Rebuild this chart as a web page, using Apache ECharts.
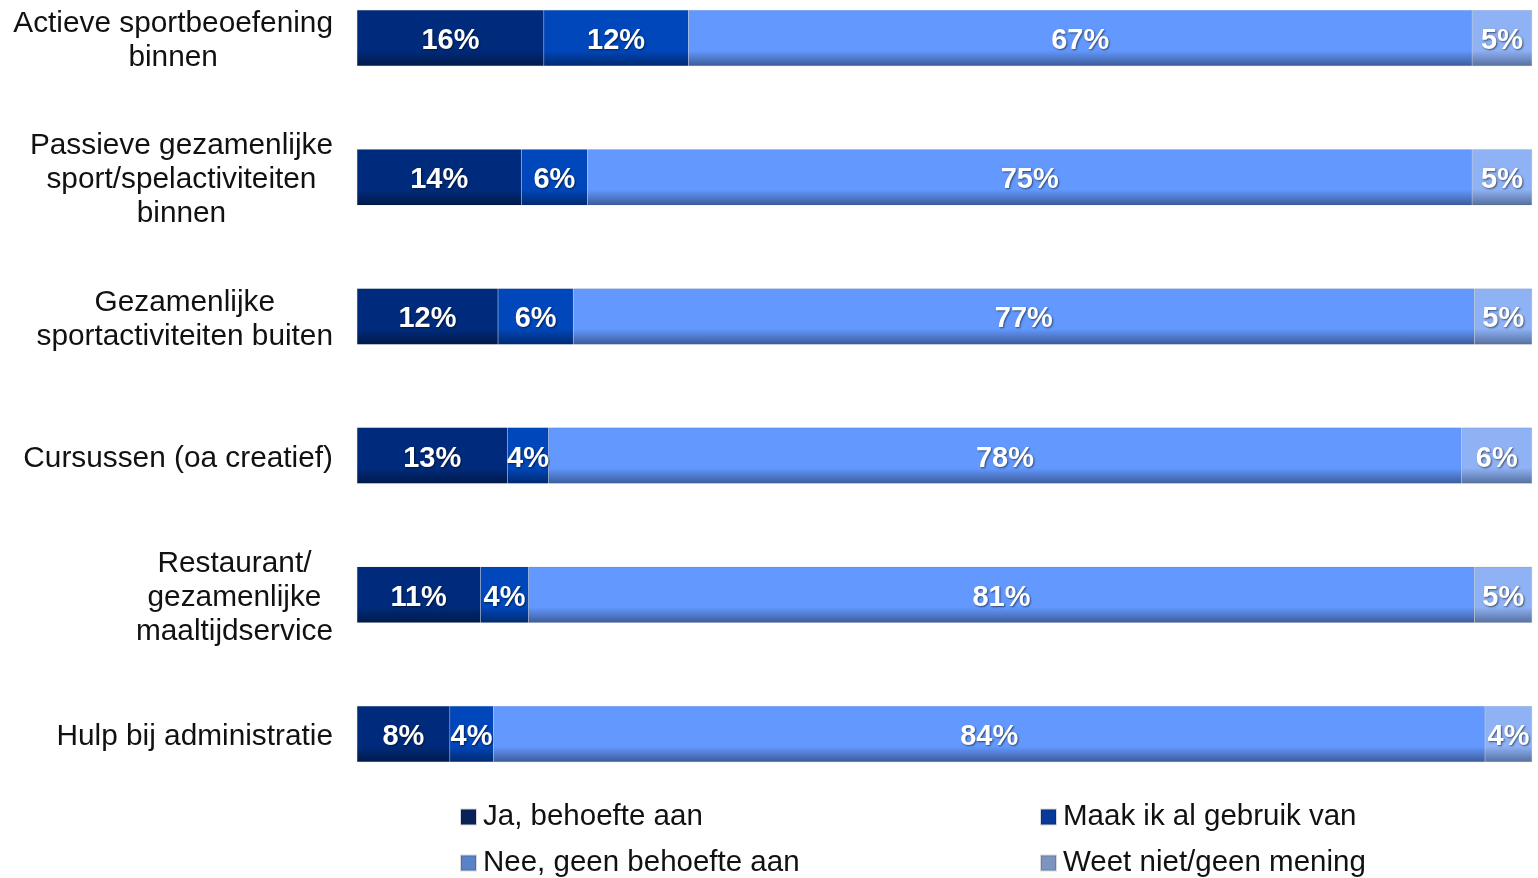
<!DOCTYPE html>
<html>
<head>
<meta charset="utf-8">
<script src="https://cdn.jsdelivr.net/npm/echarts@6/dist/echarts.min.js"></script>
<style>
html,body{margin:0;padding:0;background:#fff;}
#chart{width:1538px;height:878px;}
</style>
</head>
<body>
<div id="chart"></div>
<script>
const categories = [
  'Actieve sportbeoefening\nbinnen',
  'Passieve gezamenlijke\nsport/spelactiviteiten\nbinnen',
  'Gezamenlijke\nsportactiviteiten buiten',
  'Cursussen (oa creatief)',
  'Restaurant/\ngezamenlijke\nmaaltijdservice',
  'Hulp bij administratie'
];
const seriesNames = ['Ja, behoefte aan', 'Maak ik al gebruik van', 'Nee, geen behoefte aan', 'Weet niet/geen mening'];
const jaBehoefte   = [15.9, 14.0, 12.0, 12.8, 10.5, 7.9];
const maakGebruik  = [12.3, 5.6, 6.4, 3.5, 4.1, 3.7];
const neeBehoefte  = [66.7, 75.3, 76.7, 77.7, 80.5, 84.4];
const weetNiet     = [5.1, 5.1, 4.9, 6.0, 4.9, 4.0];

const seriesData = [jaBehoefte, maakGebruik, neeBehoefte, weetNiet];
const topColors = ['#002b7c', '#0047bb', '#6399ff', '#8fb2f5'];
const bottomColors = ['#001a4a', '#002a70', '#3d5c99', '#56709f'];
const legendColors = ['#0b2259', '#073a9a', '#5a82c8', '#7d94c0'];

function grad(i) {
  return new echarts.graphic.LinearGradient(0, 0, 0, 1, [
    {offset: 0, color: topColors[i]},
    {offset: 0.72, color: topColors[i]},
    {offset: 1, color: bottomColors[i]}
  ]);
}

const chart = echarts.init(document.getElementById('chart'));
const legendPos = [
  {left: 455, top: 797},
  {left: 1035, top: 797},
  {left: 455, top: 843},
  {left: 1035, top: 843}
];
const option = {
  animation: false,
  legend: seriesNames.map((n, i) => ({
    data: [{name: n, itemStyle: {color: legendColors[i]}}],
    left: legendPos[i].left,
    top: legendPos[i].top,
    icon: 'rect',
    itemWidth: 15,
    itemHeight: 15,
    itemGap: 6,
    textStyle: {fontFamily: 'Liberation Sans, Arial, sans-serif', fontSize: 29.5, color: '#111', padding: [0, 0, 0, 2]},
    selectedMode: false
  })),
  grid: {left: 357, right: 6, top: 38, bottom: 144, containLabel: false},
  xAxis: {type: 'value', min: 0, max: 100, show: false},
  yAxis: {
    type: 'category',
    data: categories,
    inverse: true,
    boundaryGap: false,
    axisLine: {show: false},
    axisTick: {show: false},
    splitLine: {show: false},
    axisLabel: {
      margin: 24,
      align: 'right',
      interval: 0,
      padding: [6, 0, 0, 0],
      formatter: v => v.split('\n').map(l => '{c|' + l + '}').join('\n'),
      rich: {
        c: {align: 'center', fontFamily: 'Liberation Sans, Arial, sans-serif', fontSize: 29.8, lineHeight: 34, color: '#111'}
      }
    }
  },
  series: seriesData.map((d, i) => ({
    name: seriesNames[i],
    type: 'bar',
    stack: 'total',
    barWidth: 56,
    data: d,
    itemStyle: {color: grad(i), borderColor: 'rgba(0,0,0,0.15)', borderWidth: 0.5},
    label: {
      show: true,
      position: 'inside',
      offset: [0, 3],
      formatter: p => Math.round(p.value) + '%',
      color: '#fff',
      fontFamily: 'Liberation Sans, Arial, sans-serif',
      fontWeight: 'bold',
      fontSize: 29,
      textShadowColor: 'rgba(0,0,0,0.55)',
      textShadowBlur: 2,
      textShadowOffsetX: 1,
      textShadowOffsetY: 1
    }
  }))
};
chart.setOption(option);
</script>
</body>
</html>
